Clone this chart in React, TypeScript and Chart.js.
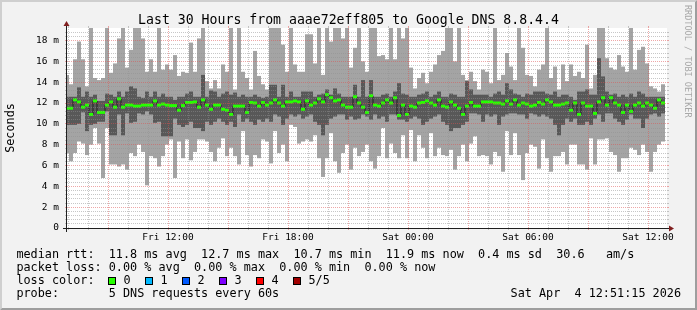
import React, { useEffect, useRef } from 'react';
import { Chart, registerables } from 'chart.js';

Chart.register(...registerables);

const WIDTH = 697;
const HEIGHT = 310;

// time axis in hours since Fri 00:00; 30 h window, 12-minute consolidation slots
const START_HOUR = 6.95;
const SPAN_HOURS = 30;
const SLOT_HOURS = 0.2;
const Y_MAX = 19.2;

// per-slot ping statistics (ms): slowest, 4th, median, 2nd, fastest of 5 pings
const pingMax = [
  14.7, 13.8, 16.2, 17.9, 16.2, 13.6, 20, 14.4, 14.2, 14.4,
  20, 14.9, 15.8, 18.2, 20, 15.4, 17.1, 20, 20, 18.2,
  15.0, 16.2, 15.0, 20, 15.2, 15.7, 15.2, 16.6, 14.6, 15.0,
  14.9, 17.8, 15.0, 18.2, 20, 14.1, 13.4, 14.2, 13.4, 15.7,
  15.0, 20, 13.3, 20, 15.0, 14.4, 13.3, 17.0, 14.6, 13.8,
  13.3, 20, 20, 20, 17.6, 15.0, 20, 15.7, 15.0, 15.0,
  18.6, 18.6, 15.8, 20, 14.7, 20, 17.9, 20, 20, 18.2,
  20, 15.4, 17.3, 20, 16.0, 15.0, 20, 20, 16.5, 16.6,
  16.2, 20, 16.2, 20, 18.2, 20, 15.4, 13.4, 14.4, 14.9,
  13.9, 15.0, 15.7, 16.6, 17.0, 20, 20, 16.0, 20, 14.7,
  14.2, 15.0, 14.1, 13.3, 15.2, 15.0, 13.9, 20, 14.2, 14.7,
  16.8, 15.5, 14.2, 20, 17.3, 14.7, 14.6, 13.6, 15.2, 15.7,
  20, 14.4, 15.5, 13.3, 15.7, 14.1, 15.7, 14.6, 15.0, 14.4,
  17.6, 13.4, 14.7, 20, 20, 16.3, 15.4, 15.2, 16.6, 15.5,
  15.0, 20, 15.2, 17.1, 17.4, 15.8, 13.6, 13.4, 13.1, 13.8,
];

const pingQ3 = [
  12.6, 12.6, 12.6, 13.5, 12.6, 13.1, 12.6, 12.8, 12.2, 12.2,
  12.9, 12.8, 12.6, 13.1, 12.6, 13.1, 13.6, 13.4, 12.6, 12.5,
  13.1, 12.6, 13.1, 12.6, 12.9, 12.6, 12.6, 12.3, 12.6, 12.6,
  12.9, 13.1, 12.6, 12.6, 14.7, 12.6, 13.2, 13.1, 12.6, 12.9,
  13.1, 12.8, 13.0, 12.6, 12.8, 12.6, 12.6, 12.8, 12.6, 12.5,
  12.6, 13.75, 13.75, 12.6, 13.75, 12.6, 13.1, 12.6, 12.6, 13.1,
  13.1, 13.1, 12.6, 12.8, 12.9, 13.3, 12.8, 13.4, 12.9, 12.6,
  12.6, 12.6, 13.75, 12.6, 14.2, 12.6, 14.2, 12.6, 12.6, 12.8,
  12.9, 12.6, 13.1, 13.9, 12.9, 12.8, 12.6, 12.6, 12.8, 12.9,
  13.1, 12.6, 12.8, 13.1, 12.6, 12.6, 12.9, 12.8, 12.6, 12.6,
  14.1, 13.3, 12.8, 12.8, 12.8, 12.8, 12.6, 12.9, 13.1, 12.8,
  13.9, 13.3, 12.9, 12.8, 12.6, 12.9, 12.8, 13.1, 13.1, 13.1,
  12.9, 12.8, 13.1, 12.6, 12.8, 12.8, 12.6, 12.3, 13.1, 13.1,
  13.3, 12.8, 12.8, 16.3, 14.55, 13.1, 12.8, 12.9, 12.6, 12.8,
  12.6, 12.9, 12.6, 13.1, 12.9, 12.6, 12.6, 12.6, 12.6, 12.6,
];

const pingMedian = [
  11.5, 11.5, 12.3, 12.1, 11.6, 11.8, 10.9, 12.2, 11.1, 11.1,
  11.8, 12.1, 11.6, 12.4, 11.6, 11.8, 11.8, 11.7, 11.7, 11.8,
  11.8, 11.8, 12.2, 11.8, 11.9, 11.8, 11.75, 11.75, 11.3, 11.75,
  12.05, 12.05, 12.1, 11.6, 12.3, 11.8, 11.4, 11.8, 11.8, 11.4,
  11.3, 10.9, 11.7, 11.7, 11.7, 11.1, 12.05, 12.0, 11.7, 12.05,
  11.8, 12.0, 12.3, 12.0, 11.7, 12.1, 12.1, 12.2, 12.1, 11.4,
  12.2, 11.8, 12.0, 12.4, 12.1, 12.8, 12.5, 12.2, 12.3, 11.8,
  11.6, 11.6, 12.6, 12.0, 11.6, 11.1, 12.7, 11.8, 11.7, 12.0,
  12.3, 12.0, 12.5, 10.8, 11.8, 10.9, 11.7, 11.6, 12.0, 12.05,
  12.2, 12.0, 11.8, 12.3, 11.7, 11.6, 12.1, 11.8, 11.5, 10.9,
  11.7, 12.05, 11.7, 11.7, 12.1, 12.1, 12.1, 12.0, 12.0, 11.9,
  12.2, 11.9, 12.3, 11.8, 12.0, 11.9, 11.7, 11.8, 12.05, 11.9,
  12.3, 12.1, 11.8, 11.8, 11.9, 12.0, 11.3, 12.0, 10.9, 12.0,
  11.7, 11.7, 11.0, 12.1, 12.5, 11.8, 12.5, 12.0, 11.8, 11.1,
  11.8, 11.2, 11.8, 12.0, 11.7, 12.0, 11.8, 11.5, 12.3, 12.0,
];

const pingQ1 = [
  9.9, 9.9, 9.9, 10.0, 11.1, 9.3, 9.9, 10.0, 10.2, 10.2,
  11.2, 8.9, 8.9, 10.9, 8.9, 11.0, 10.1, 10.2, 11.0, 10.9,
  11.2, 10.9, 10.1, 10.2, 8.8, 8.8, 8.8, 10.5, 9.9, 9.7,
  9.9, 10.2, 9.6, 9.6, 9.3, 10.2, 9.9, 10.2, 10.5, 10.2,
  9.9, 10.2, 9.7, 10.9, 10.2, 10.5, 10.2, 9.9, 10.4, 10.2,
  10.5, 10.2, 10.9, 10.7, 9.9, 10.5, 10.9, 10.7, 10.9, 10.5,
  10.7, 10.9, 10.2, 9.9, 8.9, 9.9, 10.5, 10.7, 10.9, 10.9,
  10.4, 10.7, 10.4, 10.5, 10.9, 10.7, 10.4, 10.9, 10.5, 10.7,
  10.2, 10.9, 10.9, 10.4, 10.4, 10.2, 10.5, 10.7, 10.5, 9.9,
  10.2, 10.5, 10.7, 10.9, 10.2, 9.9, 9.3, 9.6, 9.6, 9.9,
  10.2, 11.0, 11.0, 10.9, 10.2, 10.9, 10.7, 10.9, 9.9, 10.7,
  10.9, 11.0, 11.0, 10.9, 10.9, 10.5, 11.0, 10.9, 10.7, 10.9,
  10.7, 10.5, 9.9, 8.9, 9.9, 10.5, 10.2, 10.5, 9.9, 9.9,
  10.2, 9.9, 10.5, 10.9, 10.2, 11.0, 11.0, 10.5, 10.2, 9.9,
  10.4, 10.9, 10.5, 10.5, 9.6, 10.5, 10.9, 11.0, 10.7, 11.0,
];

const pingMin = [
  7.2, 6.4, 7.2, 8.3, 8.1, 7.0, 8.0, 9.6, 8.1, 4.8,
  9.6, 6.1, 6.1, 5.9, 6.1, 5.6, 7.2, 6.9, 8.0, 7.3,
  4.1, 6.9, 6.7, 5.9, 6.9, 8.0, 8.5, 4.8, 8.3, 6.7,
  8.5, 6.5, 7.3, 8.5, 8.5, 8.3, 7.3, 6.4, 7.7, 8.6,
  6.9, 7.7, 6.9, 6.1, 9.3, 7.0, 5.9, 7.0, 6.7, 8.5,
  8.3, 6.2, 9.3, 7.2, 8.0, 6.4, 9.9, 9.7, 8.1, 8.3,
  8.5, 8.3, 8.9, 6.7, 4.9, 6.7, 9.1, 6.4, 5.3, 7.2,
  8.0, 5.6, 7.7, 6.9, 7.3, 8.0, 6.4, 5.7, 6.9, 9.6,
  6.7, 8.1, 7.2, 6.7, 8.9, 6.7, 9.4, 6.4, 8.9, 7.7,
  6.7, 9.1, 6.9, 7.7, 7.0, 6.9, 7.5, 5.6, 6.9, 8.0,
  6.4, 8.1, 8.8, 6.9, 7.0, 6.9, 6.1, 7.3, 6.9, 5.4,
  9.3, 7.0, 9.1, 7.0, 4.6, 7.2, 8.0, 7.8, 5.7, 8.5,
  6.7, 5.4, 6.9, 6.9, 7.3, 6.1, 8.0, 8.0, 6.1, 6.1,
  5.6, 8.6, 6.1, 8.5, 8.5, 8.6, 7.3, 7.0, 5.4, 6.7,
  6.7, 7.7, 7.5, 7.0, 8.0, 7.3, 5.4, 7.3, 8.0, 8.3,
];

const yTickValues = [0, 2, 4, 6, 8, 10, 12, 14, 16, 18];
const yTickLabels = ['0', '2 m', '4 m', '6 m', '8 m', '10 m', '12 m', '14 m', '16 m', '18 m'];
const xTickHours = [12, 18, 24, 30, 36];
const xTickLabels = ['Fri 12:00', 'Fri 18:00', 'Sat 00:00', 'Sat 06:00', 'Sat 12:00'];

const TITLE = 'Last 30 Hours from aaae72eff805 to Google DNS 8.8.4.4';
const LEGEND_RTT = 'median rtt:  11.8 ms avg  12.7 ms max  10.7 ms min  11.9 ms now  0.4 ms sd  30.6   am/s';
const LEGEND_LOSS = 'packet loss: 0.00 % avg  0.00 % max  0.00 % min  0.00 % now';
const LEGEND_LOSS_COLOR = 'loss color:';
const lossLabels = ['0', '1', '2', '3', '4', '5/5'];
const lossColors = ['#26ff00', '#00b8ff', '#0059ff', '#7e00ff', '#ff0000', '#a10000'];
const LEGEND_PROBE = 'probe:       5 DNS requests every 60s';
const TIMESTAMP = 'Sat Apr  4 12:51:15 2026';
const WATERMARK = 'RRDTOOL / TOBI OETIKER';

const MONO = '"DejaVu Sans Mono", monospace';
const BACK = '#f2f2f2';
const SHADEA = '#cfcfcf';
const SHADEB = '#9e9e9e';
const GRID = 'rgba(143,143,143,0.5)';
const MGRID = 'rgba(222,79,79,0.5)';
const AXIS = '#1f1f1f';
const ARROW = '#801f1f';

const rrdPlugin = {
  id: 'rrdDecor',
  beforeDraw(chart: any) {
    const { ctx, chartArea: a } = chart;
    ctx.save();
    ctx.fillStyle = BACK;
    ctx.fillRect(0, 0, WIDTH, HEIGHT);
    ctx.fillStyle = SHADEA;
    ctx.beginPath();
    ctx.moveTo(0, HEIGHT); ctx.lineTo(2, HEIGHT - 2); ctx.lineTo(2, 2);
    ctx.lineTo(WIDTH - 2, 2); ctx.lineTo(WIDTH, 0); ctx.lineTo(0, 0);
    ctx.closePath(); ctx.fill();
    ctx.fillStyle = SHADEB;
    ctx.beginPath();
    ctx.moveTo(2, HEIGHT - 2); ctx.lineTo(WIDTH - 2, HEIGHT - 2); ctx.lineTo(WIDTH - 2, 2);
    ctx.lineTo(WIDTH, 0); ctx.lineTo(WIDTH, HEIGHT); ctx.lineTo(0, HEIGHT);
    ctx.closePath(); ctx.fill();
    ctx.fillStyle = '#ffffff';
    ctx.fillRect(a.left, a.top, a.right - a.left, a.bottom - a.top);
    ctx.restore();
  },
  afterDatasetsDraw(chart: any) {
    const { ctx, chartArea: a, scales } = chart;
    const xs = scales.x;
    const ys = scales.y;
    const L = a.left, R = a.right, T = a.top, B = a.bottom;
    const seg = (x1: number, y1: number, x2: number, y2: number) => {
      ctx.beginPath(); ctx.moveTo(x1, y1); ctx.lineTo(x2, y2); ctx.stroke();
    };
    ctx.save();
    ctx.lineWidth = 1;
    // horizontal grid: minor every 0.4 ms, major every 2 ms
    for (let k = 1; k * 0.4 < Y_MAX - 1e-6; k++) {
      const major = k % 5 === 0;
      const y = Math.floor(ys.getPixelForValue(k * 0.4) + 1e-6) + 0.5;
      ctx.strokeStyle = major ? MGRID : GRID;
      ctx.setLineDash([]);
      seg(L - 2, y, L, y);
      seg(R, y, R + 2, y);
      ctx.setLineDash([1, 1]);
      seg(L, y, R, y);
    }
    // vertical grid: minor every hour, major every 3 hours
    for (let h = Math.ceil(START_HOUR); h <= START_HOUR + SPAN_HOURS; h++) {
      const major = h % 3 === 0;
      const x = Math.floor(xs.getPixelForValue(h) + 1e-6) + 0.5;
      ctx.strokeStyle = major ? MGRID : GRID;
      ctx.setLineDash([]);
      seg(x, B, x, B + 2);
      seg(x, T - 2, x, T);
      ctx.setLineDash([1, 1]);
      seg(x, B, x, T);
    }
    // axes
    ctx.setLineDash([]);
    ctx.strokeStyle = AXIS;
    seg(L - 4, B + 0.5, R + 4, B + 0.5);
    seg(L - 0.5, B + 4, L - 0.5, T - 4);
    // arrows
    ctx.fillStyle = ARROW;
    ctx.beginPath();
    ctx.moveTo(R + 2, B + 0.5 - 3); ctx.lineTo(R + 2, B + 0.5 + 3); ctx.lineTo(R + 7, B + 0.5);
    ctx.closePath(); ctx.fill();
    ctx.beginPath();
    ctx.moveTo(L - 0.5 - 3, T - 2); ctx.lineTo(L - 0.5 + 3, T - 2); ctx.lineTo(L - 0.5, T - 7);
    ctx.closePath(); ctx.fill();
    ctx.restore();
  },
  afterDraw(chart: any) {
    const { ctx } = chart;
    ctx.save();
    ctx.fillStyle = '#000000';
    ctx.font = `13.2px ${MONO}`;
    ctx.textAlign = 'center';
    ctx.textBaseline = 'alphabetic';
    ctx.fillText(TITLE, WIDTH / 2, 24);

    ctx.font = `11.8px ${MONO}`;
    ctx.textAlign = 'left';
    ctx.textBaseline = 'middle';
    ctx.fillText(LEGEND_RTT, 16.4, 255);
    ctx.fillText(LEGEND_LOSS, 16.4, 268);
    ctx.fillText(LEGEND_LOSS_COLOR, 16.4, 281);
    lossColors.forEach((c, k) => {
      const bx = 108 + 37 * k;
      ctx.fillStyle = c;
      ctx.fillRect(bx, 277, 8, 8);
      ctx.strokeStyle = '#000000';
      ctx.lineWidth = 1;
      ctx.strokeRect(bx + 0.5, 277.5, 7, 7);
      ctx.fillStyle = '#000000';
      ctx.fillText(lossLabels[k], bx + 15.5, 281);
    });
    ctx.fillText(LEGEND_PROBE, 16.4, 294);
    ctx.textAlign = 'right';
    ctx.fillText(TIMESTAMP, 681, 294);

    ctx.translate(687, 5);
    ctx.rotate(Math.PI / 2);
    ctx.font = `8.5px ${MONO}`;
    ctx.fillStyle = '#a8a8a8';
    ctx.textAlign = 'left';
    ctx.textBaseline = 'middle';
    ctx.fillText(WATERMARK, 0, 0);
    ctx.restore();
  },
};

export default function App() {
  const ref = useRef<HTMLCanvasElement>(null);

  useEffect(() => {
    document.body.style.margin = '0';
    const canvas = ref.current;
    if (!canvas) return;

    const slotTimes = pingMedian.map((_, i) => START_HOUR + i * SLOT_HOURS);
    const outer = slotTimes.map((x, i) => ({ x, y: [pingMin[i], pingMax[i]] }));
    const inner = slotTimes.map((x, i) => ({ x, y: [pingQ1[i], pingQ3[i]] }));
    const median = slotTimes.map((x, i) => ({ x, y: pingMedian[i] }));

    const barCommon = {
      type: 'bar' as const,
      borderWidth: 0,
      inflateAmount: 0,
      grouped: false,
      barPercentage: 1,
      categoryPercentage: 1,
      clip: 0,
    };

    const tickFont = { family: 'DejaVu Sans Mono', size: 9.5 };

    const chart = new Chart(canvas, {
      type: 'bar',
      data: {
        datasets: [
          { ...barCommon, label: 'min-max', data: outer as any, backgroundColor: '#a4a4a4', order: 3 },
          { ...barCommon, label: 'q1-q3', data: inner as any, backgroundColor: '#585858', order: 2 },
          {
            type: 'line',
            label: 'median',
            data: median as any,
            stepped: 'middle',
            borderColor: '#202020',
            borderWidth: 1,
            fill: false,
            pointStyle: 'line',
            pointRadius: 2,
            pointBorderWidth: 3,
            pointBorderColor: '#26ff00',
            pointBackgroundColor: '#26ff00',
            order: 1,
            clip: 0,
          } as any,
        ],
      },
      options: {
        responsive: false,
        animation: false,
        devicePixelRatio: 1,
        events: [],
        layout: { padding: { left: 0, right: 30, top: 28, bottom: 0 } },
        plugins: {
          legend: { display: false },
          tooltip: { enabled: false },
          title: { display: false },
        },
        scales: {
          x: {
            type: 'linear',
            min: START_HOUR,
            max: START_HOUR + SPAN_HOURS,
            offset: false,
            grid: { display: false, drawTicks: false },
            border: { display: false },
            afterBuildTicks: (s: any) => { s.ticks = xTickHours.map((value) => ({ value })); },
            afterFit: (s: any) => { s.height = 82; },
            ticks: {
              autoSkip: false,
              maxRotation: 0,
              minRotation: 0,
              padding: 4,
              color: '#000000',
              font: tickFont,
              callback: (_v: any, i: number) => xTickLabels[i],
            },
          },
          y: {
            type: 'linear',
            min: 0,
            max: Y_MAX,
            grid: { display: false, drawTicks: false },
            border: { display: false },
            afterBuildTicks: (s: any) => { s.ticks = yTickValues.map((value) => ({ value })); },
            afterFit: (s: any) => { s.width = 67; },
            ticks: {
              autoSkip: false,
              padding: 8,
              color: '#000000',
              font: tickFont,
              callback: (_v: any, i: number) => yTickLabels[i],
            },
            title: {
              display: true,
              text: 'Seconds',
              color: '#000000',
              font: { family: 'DejaVu Sans Mono', size: 11.8 },
              padding: { top: 3.4, bottom: 0 },
            },
          },
        },
      } as any,
      plugins: [rrdPlugin],
    });

    return () => chart.destroy();
  }, []);

  return (
    <div style={{ width: WIDTH, height: HEIGHT }}>
      <canvas ref={ref} width={WIDTH} height={HEIGHT} style={{ display: 'block', width: WIDTH, height: HEIGHT }} />
    </div>
  );
}
